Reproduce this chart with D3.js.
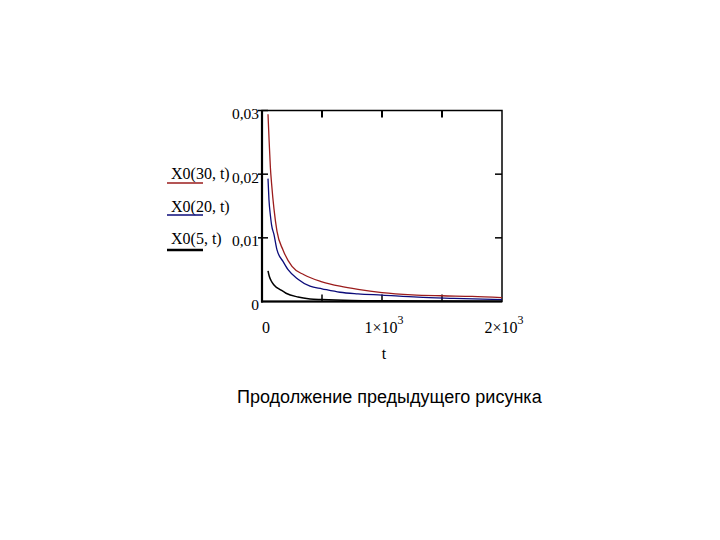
<!DOCTYPE html>
<html>
<head>
<meta charset="utf-8">
<script src="https://cdn.jsdelivr.net/npm/d3@7"></script>
<style>
  html, body { margin: 0; padding: 0; background: #ffffff; }
  svg { display: block; }
</style>
</head>
<body>
<script>
// ---- data ----
const seriesNames = ["X0(30, t)", "X0(20, t)", "X0(5, t)"];
const seriesColors = ["#9b1c1c", "#0b0b7a", "#000000"];

const tRed = [50, 60, 70, 80, 100, 125, 175, 250, 350, 500, 650, 800, 1000, 1250, 1500, 1750, 2000];
const vRed = [0.0294, 0.0250, 0.0210, 0.0185, 0.0145, 0.0110, 0.0081, 0.0055, 0.0042, 0.0031, 0.0024, 0.0019, 0.0014, 0.00105, 0.0009, 0.0008, 0.0006];

const tBlue = [50, 58, 70, 80, 100, 125, 175, 217, 300, 400, 500, 650, 800, 1000, 1300, 1600, 2000];
const vBlue = [0.0193, 0.0160, 0.0135, 0.0120, 0.0105, 0.0081, 0.0063, 0.0050, 0.0035, 0.0024, 0.0020, 0.00145, 0.0012, 0.0010, 0.00068, 0.0005, 0.0003];

const tBlack = [50, 60, 75, 100, 158, 200, 300, 400, 500, 750, 1000, 1500, 2000];
const vBlack = [0.0048, 0.0040, 0.0033, 0.0026, 0.0018, 0.0013, 0.0007, 0.0004, 0.0003, 0.00015, 0.0001, 0.00007, 0.00005];

const yTicks = [0, 0.01, 0.02, 0.03];
const yTickLabels = ["0", "0,01", "0,02", "0,03"];
const xTicks = [0, 1000, 2000];
const xTickMantissa = ["0", "1\u00d710", "2\u00d710"];
const xTickExp = ["", "3", "3"];
const xMinorTicks = [500, 1000, 1500];
const xLabel = "t";
const caption = "Продолжение предыдущего рисунка";

// ---- layout ----
const W = 720, H = 540;
const svg = d3.select("body").append("svg").attr("width", W).attr("height", H);
svg.append("rect").attr("width", W).attr("height", H).attr("fill", "#fff");

const x = d3.scaleLinear().domain([0, 2000]).range([262, 502]);
const y = d3.scaleLinear().domain([0, 0.03]).range([301.5, 110.5]);

const serif = "'Liberation Serif', 'Times New Roman', serif";

// frame
svg.append("rect")
  .attr("x", x(0)).attr("y", y(0.03))
  .attr("width", x(2000) - x(0)).attr("height", y(0) - y(0.03))
  .attr("fill", "none").attr("stroke", "#000").attr("stroke-width", 1.5);
// heavier left and bottom axes
svg.append("line").attr("x1", x(0)).attr("x2", x(0)).attr("y1", y(0.03)).attr("y2", y(0) + 1)
  .attr("stroke", "#000").attr("stroke-width", 2.2);
svg.append("line").attr("x1", x(0) - 1).attr("x2", x(2000)).attr("y1", y(0)).attr("y2", y(0))
  .attr("stroke", "#000").attr("stroke-width", 2.2);

// y ticks (left, crossing) and right (inward)
const yInner = yTicks.filter(d => d > 0 && d < 0.03);
svg.selectAll(".ytl").data(yTicks.filter(d => d > 0)).enter().append("line")
  .attr("x1", x(0) - 4).attr("x2", x(0) + 6)
  .attr("y1", d => y(d)).attr("y2", d => y(d))
  .attr("stroke", "#000").attr("stroke-width", 1.5);
svg.selectAll(".ytr").data(yInner).enter().append("line")
  .attr("x1", x(2000) - 7).attr("x2", x(2000))
  .attr("y1", d => y(d)).attr("y2", d => y(d))
  .attr("stroke", "#000").attr("stroke-width", 1.5);
// x ticks top and bottom (inward)
svg.selectAll(".xtt").data(xMinorTicks).enter().append("line")
  .attr("x1", d => x(d)).attr("x2", d => x(d))
  .attr("y1", y(0.03)).attr("y2", y(0.03) + 7)
  .attr("stroke", "#000").attr("stroke-width", 2);
svg.selectAll(".xtb").data(xMinorTicks).enter().append("line")
  .attr("x1", d => x(d)).attr("x2", d => x(d))
  .attr("y1", y(0)).attr("y2", y(0) - 7)
  .attr("stroke", "#000").attr("stroke-width", 1.5);

// y tick labels
svg.selectAll(".ylab").data(yTicks).enter().append("text")
  .attr("x", x(0) - 3)
  .attr("y", d => y(d) + 3)
  .attr("dy", "0.35em")
  .attr("text-anchor", "end")
  .attr("font-family", serif).attr("font-size", 15.5)
  .text((d, i) => yTickLabels[i]);

// x tick labels
const xl = svg.selectAll(".xlab").data(xTicks).enter().append("text")
  .attr("x", (d, i) => x(d) + (i === 0 ? 4 : 2))
  .attr("y", 333)
  .attr("text-anchor", "middle")
  .attr("font-family", serif).attr("font-size", 16);
xl.append("tspan").text((d, i) => xTickMantissa[i]);
xl.append("tspan").attr("dy", -9).attr("font-size", 12).text((d, i) => xTickExp[i]);

// x axis label
svg.append("text").attr("x", x(1000) + 2).attr("y", 359)
  .attr("text-anchor", "middle")
  .attr("font-family", serif).attr("font-size", 16)
  .text(xLabel);

// curves
const series = [
  { t: tRed, v: vRed },
  { t: tBlue, v: vBlue },
  { t: tBlack, v: vBlack }
];
const line = d3.line().x(d => x(d[0])).y(d => y(d[1])).curve(d3.curveMonotoneX);
series.forEach((s, i) => {
  svg.append("path")
    .datum(s.t.map((t, j) => [t, s.v[j]]))
    .attr("d", line)
    .attr("fill", "none")
    .attr("stroke", seriesColors[i])
    .attr("stroke-width", i === 2 ? 1.5 : 1.3);
});

// legend
const legY = [179, 212, 244];
const legLineY = [183, 215, 250];
seriesNames.forEach((n, i) => {
  svg.append("text").attr("x", 171).attr("y", legY[i])
    .attr("font-family", serif).attr("font-size", 16)
    .text(n);
  svg.append("line").attr("x1", 167).attr("x2", 203)
    .attr("y1", legLineY[i]).attr("y2", legLineY[i])
    .attr("stroke", seriesColors[i]).attr("stroke-width", i === 2 ? 2.5 : 1.3);
});

// caption
svg.append("text").attr("x", 237).attr("y", 403)
  .attr("font-family", "'Liberation Sans', Arial, sans-serif").attr("font-size", 18)
  .text(caption);
</script>
</body>
</html>
